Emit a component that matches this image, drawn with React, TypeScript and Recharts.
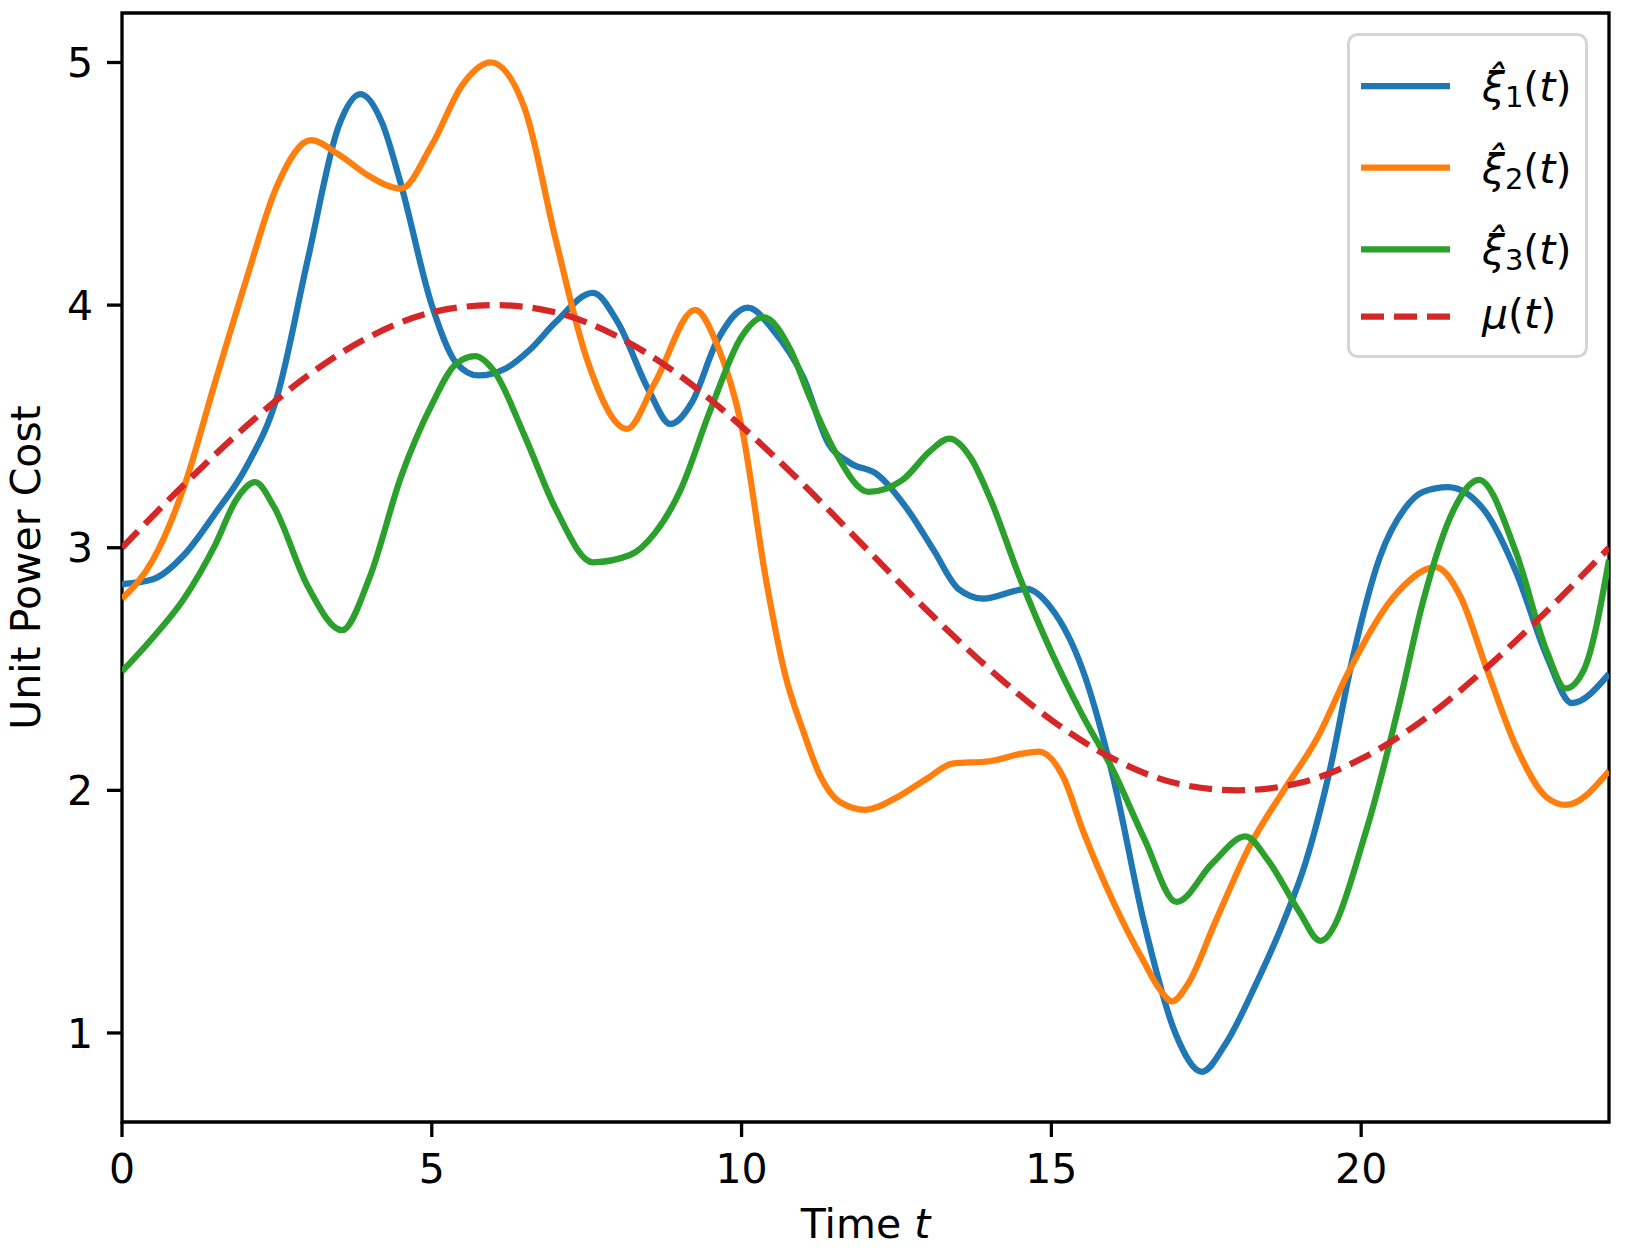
import React from "react";
import { LineChart, Line, XAxis, YAxis, Legend, ReferenceArea } from "recharts";

// [t, value] pairs
const xi1 = [
  [0, 2.85], [0.5, 2.87], [1, 2.97], [1.5, 3.14], [2, 3.33], [2.5, 3.62],
  [3, 4.19], [3.5, 4.74], [3.85, 4.87], [4.2, 4.75], [4.5, 4.5], [5, 4.0],
  [5.4, 3.76], [5.75, 3.71], [6.2, 3.74], [6.6, 3.82], [7, 3.93], [7.6, 4.05],
  [8, 3.93], [8.5, 3.65], [8.85, 3.51], [9.2, 3.6], [9.6, 3.85], [10.1, 3.99],
  [10.5, 3.9], [11, 3.7], [11.4, 3.43], [11.75, 3.35], [12.2, 3.3], [12.7, 3.15],
  [13.1, 2.99], [13.5, 2.83], [13.9, 2.79], [14.6, 2.83], [15, 2.75], [15.5, 2.5],
  [16, 2.05], [16.5, 1.45], [17, 1.0], [17.43, 0.84], [17.8, 0.95], [18.3, 1.2],
  [18.75, 1.46], [19.1, 1.7], [19.5, 2.09], [19.85, 2.53], [20.3, 2.96],
  [20.7, 3.16], [21, 3.23], [21.4, 3.25], [22, 3.15], [22.5, 2.9], [23, 2.55],
  [23.4, 2.36], [24, 2.48],
];

const xi2 = [
  [0, 2.79], [0.5, 2.95], [1, 3.25], [1.5, 3.68], [2, 4.1], [2.5, 4.49],
  [3.05, 4.68], [3.5, 4.62], [4, 4.53], [4.5, 4.48], [5, 4.66], [5.5, 4.91],
  [5.95, 5.0], [6.5, 4.81], [7, 4.27], [7.5, 3.78], [8.15, 3.49], [8.6, 3.68],
  [9.25, 3.98], [9.6, 3.84], [10, 3.5], [10.4, 2.86], [10.7, 2.48], [11, 2.24],
  [11.25, 2.07], [11.6, 1.95], [12, 1.92], [12.5, 1.97], [13, 2.05], [13.4, 2.11],
  [14, 2.12], [14.5, 2.15], [14.8, 2.16], [15.2, 2.05], [15.5, 1.84], [16, 1.54],
  [16.5, 1.29], [16.75, 1.18], [16.95, 1.13], [17.2, 1.2], [17.65, 1.46],
  [18.2, 1.77], [18.75, 2.0], [19.3, 2.22], [19.8, 2.49], [20.6, 2.82],
  [21.2, 2.92], [21.6, 2.8], [22, 2.52], [22.5, 2.18], [23, 1.97], [23.3, 1.94],
  [24, 2.08],
];

const xi3 = [
  [0, 2.49], [0.5, 2.63], [1, 2.79], [1.5, 3.01], [1.85, 3.2], [2.15, 3.27],
  [2.45, 3.17], [3, 2.84], [3.55, 2.66], [4, 2.88], [4.5, 3.29], [5, 3.59],
  [5.4, 3.76], [5.7, 3.79], [6, 3.73], [6.5, 3.46], [7, 3.16], [7.6, 2.94],
  [8.2, 2.97], [8.6, 3.06], [9, 3.23], [9.5, 3.57], [10, 3.87], [10.35, 3.95],
  [10.8, 3.81], [11.1, 3.62], [11.5, 3.4], [12.05, 3.23], [12.6, 3.28],
  [13.05, 3.4], [13.35, 3.45], [13.7, 3.37], [14, 3.21], [14.5, 2.87], [15, 2.57],
  [15.5, 2.31], [16, 2.08], [16.5, 1.8], [17.02, 1.54], [17.6, 1.7], [18.13, 1.81],
  [18.5, 1.71], [19, 1.5], [19.34, 1.38], [20.1, 1.85], [20.6, 2.34], [21, 2.78],
  [21.5, 3.16], [21.9, 3.28], [22.5, 2.98], [23, 2.57], [23.3, 2.42], [23.6, 2.5],
  [24, 2.95],
];

const mu = [
  [0, 3.0], [1, 3.26], [2, 3.5], [3, 3.71], [4, 3.87], [5, 3.97], [6, 4.0],
  [7, 3.97], [8, 3.87], [9, 3.71], [10, 3.5], [11, 3.26], [12, 3.0], [13, 2.74],
  [14, 2.5], [15, 2.29], [16, 2.13], [17, 2.03], [18, 2.0], [19, 2.03], [20, 2.13],
  [21, 2.29], [22, 2.5], [23, 2.74], [24, 3.0],
];

const xTicks = [0, 5, 10, 15, 20];
const yTicks = [1, 2, 3, 4, 5];
const xDomain = [0, 24];
const yDomain = [0.633, 5.204];

const toRows = (pts: number[][]) => pts.map(([t, v]) => ({ t, v }));

const FONT = "DejaVu Sans";
const FS = 41;

const series = [
  { key: "xi1", data: toRows(xi1), color: "#1f77b4", sub: "1", dash: undefined },
  { key: "xi2", data: toRows(xi2), color: "#ff7f0e", sub: "2", dash: undefined },
  { key: "xi3", data: toRows(xi3), color: "#2ca02c", sub: "3", dash: undefined },
  { key: "mu", data: toRows(mu), color: "#d62728", sub: null, dash: "23 10" },
];

function LegendBox() {
  const rows = [53, 134.7, 216.3, 283.7];
  const baselines = [68, 149.7, 231.3, 295];
  return (
    <svg width={241} height={325} style={{ display: "block" }}>
      <rect x={1.5} y={1.5} width={238} height={322} rx={9} ry={9}
        fill="rgba(255,255,255,0.8)" stroke="#d5d5d5" strokeWidth={3} />
      {series.map((s, i) => (
        <g key={s.key}>
          <line x1={14} x2={103} y1={rows[i]} y2={rows[i]} stroke={s.color}
            strokeWidth={6.25} strokeDasharray={s.dash} />
          <text x={135} y={baselines[i]} fontFamily={FONT} fontSize={FS} fill="#000">
            {s.sub ? (
              <>
                <tspan fontStyle="italic">{"ξ\u0302"}</tspan>
                <tspan fontSize={29} dy={6}>{s.sub}</tspan>
                <tspan dy={-6}>(</tspan>
                <tspan fontStyle="italic">t</tspan>
                <tspan>)</tspan>
              </>
            ) : (
              <>
                <tspan fontStyle="italic">μ</tspan>
                <tspan>(</tspan>
                <tspan fontStyle="italic">t</tspan>
                <tspan>)</tspan>
              </>
            )}
          </text>
        </g>
      ))}
    </svg>
  );
}

const XLabel = (props: any) => {
  const { x, width } = props.viewBox;
  return (
    <text x={x + width / 2} y={1238} textAnchor="middle" fontFamily={FONT} fontSize={FS} fill="#000">
      Time <tspan fontStyle="italic">t</tspan>
    </text>
  );
};

const YLabel = (props: any) => {
  const { y, height } = props.viewBox;
  const cy = y + height / 2;
  return (
    <text x={26} y={cy} transform={`rotate(-90, 26, ${cy})`} textAnchor="middle"
      dominantBaseline="central" fontFamily={FONT} fontSize={FS} fill="#000">
      Unit Power Cost
    </text>
  );
};

export default function App() {
  const axisStroke = { stroke: "#000", strokeWidth: 3.3 };
  const tickStyle = { fontFamily: FONT, fontSize: FS, fill: "#000" };
  return (
    <div style={{ position: "absolute", left: 0, top: 0, width: 1625, height: 1248, background: "#fff" }}>
      <LineChart width={1625} height={1248} margin={{ top: 13, right: 16, bottom: 0, left: 0 }}>
        <XAxis type="number" dataKey="t" domain={xDomain} ticks={xTicks} height={126}
          axisLine={false} tickLine={axisStroke} tickSize={15} tickMargin={17}
          tick={tickStyle} allowDataOverflow label={{ content: XLabel }} />
        <YAxis type="number" domain={yDomain} ticks={yTicks} width={122}
          axisLine={false} tickLine={axisStroke} tickSize={15} tickMargin={14}
          tick={tickStyle} allowDataOverflow label={{ content: YLabel }} />
        {series.map((s) => (
          <Line key={s.key} data={s.data} dataKey="v" type="monotone" stroke={s.color}
            strokeWidth={6.25} strokeDasharray={s.dash} dot={false} activeDot={false}
            isAnimationActive={false} />
        ))}
        <ReferenceArea x1={xDomain[0]} x2={xDomain[1]} y1={yDomain[0]} y2={yDomain[1]}
          fill="none" fillOpacity={0} stroke="#000" strokeWidth={3.3} ifOverflow="visible" />
        <Legend layout="vertical" align="center" verticalAlign="middle"
          wrapperStyle={{ position: "absolute", left: 1347, top: 33, width: 241, height: 325 }}
          content={() => <LegendBox />} />
      </LineChart>
    </div>
  );
}
